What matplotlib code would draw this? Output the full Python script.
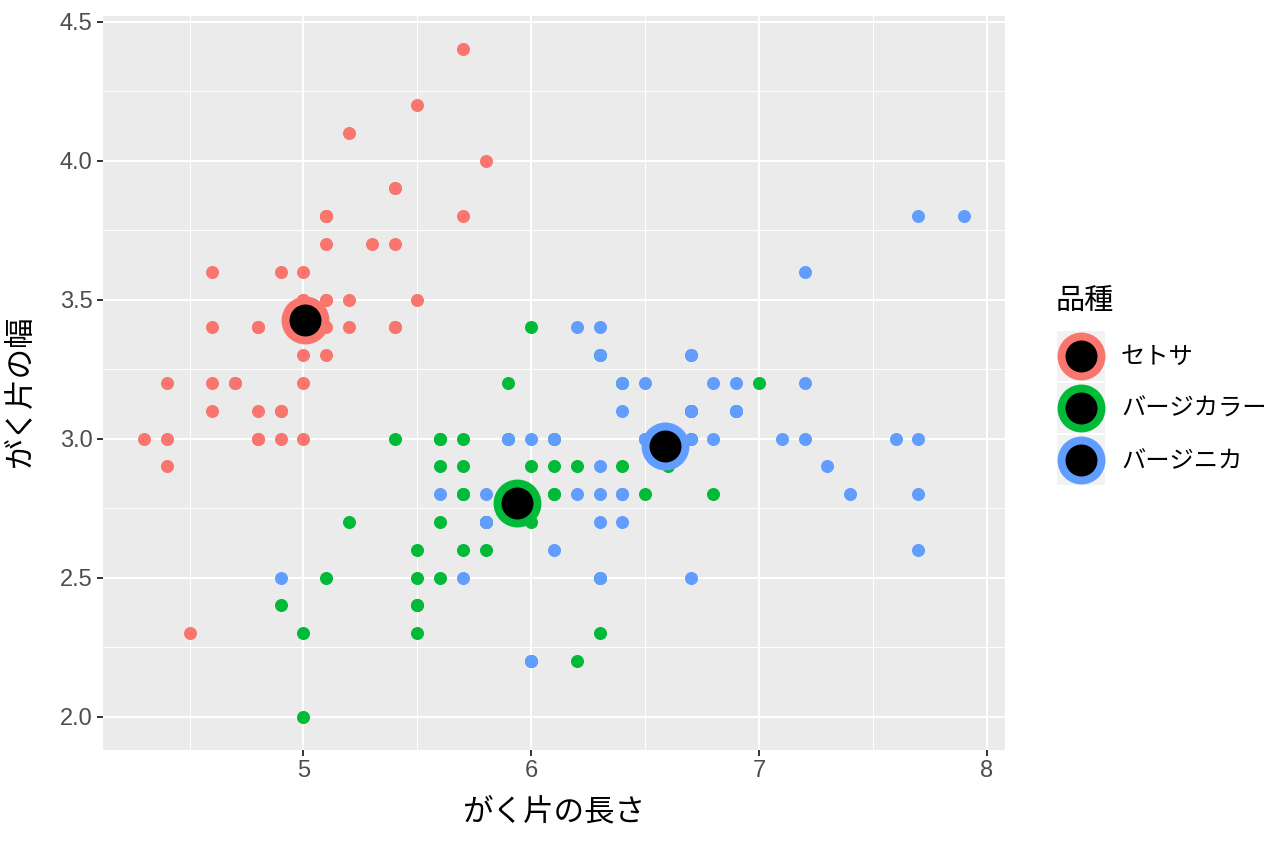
import matplotlib
matplotlib.use("Agg")
import matplotlib.pyplot as plt
from matplotlib.patches import Rectangle
import numpy as np

# iris: がく片の長さ / がく片の幅
setosa_len = [5.1, 4.9, 4.7, 4.6, 5.0, 5.4, 4.6, 5.0, 4.4, 4.9, 5.4, 4.8, 4.8, 4.3, 5.8, 5.7, 5.4, 5.1, 5.7, 5.1,
              5.4, 5.1, 4.6, 5.1, 4.8, 5.0, 5.0, 5.2, 5.2, 4.7, 4.8, 5.4, 5.2, 5.5, 4.9, 5.0, 5.5, 4.9, 4.4, 5.1,
              5.0, 4.5, 4.4, 5.0, 5.1, 4.8, 5.1, 4.6, 5.3, 5.0]
setosa_wid = [3.5, 3.0, 3.2, 3.1, 3.6, 3.9, 3.4, 3.4, 2.9, 3.1, 3.7, 3.4, 3.0, 3.0, 4.0, 4.4, 3.9, 3.5, 3.8, 3.8,
              3.4, 3.7, 3.6, 3.3, 3.4, 3.0, 3.4, 3.5, 3.4, 3.2, 3.1, 3.4, 4.1, 4.2, 3.1, 3.2, 3.5, 3.6, 3.0, 3.4,
              3.5, 2.3, 3.2, 3.5, 3.8, 3.0, 3.8, 3.2, 3.7, 3.3]
versi_len = [7.0, 6.4, 6.9, 5.5, 6.5, 5.7, 6.3, 4.9, 6.6, 5.2, 5.0, 5.9, 6.0, 6.1, 5.6, 6.7, 5.6, 5.8, 6.2, 5.6,
             5.9, 6.1, 6.3, 6.1, 6.4, 6.6, 6.8, 6.7, 6.0, 5.7, 5.5, 5.5, 5.8, 6.0, 5.4, 6.0, 6.7, 6.3, 5.6, 5.5,
             5.5, 6.1, 5.8, 5.0, 5.6, 5.7, 5.7, 6.2, 5.1, 5.7]
versi_wid = [3.2, 3.2, 3.1, 2.3, 2.8, 2.8, 3.3, 2.4, 2.9, 2.7, 2.0, 3.0, 2.2, 2.9, 2.9, 3.1, 3.0, 2.7, 2.2, 2.5,
             3.2, 2.8, 2.5, 2.8, 2.9, 3.0, 2.8, 3.0, 2.9, 2.6, 2.4, 2.4, 2.7, 2.7, 3.0, 3.4, 3.1, 2.3, 3.0, 2.5,
             2.6, 3.0, 2.6, 2.3, 2.7, 3.0, 2.9, 2.9, 2.5, 2.8]
virgi_len = [6.3, 5.8, 7.1, 6.3, 6.5, 7.6, 4.9, 7.3, 6.7, 7.2, 6.5, 6.4, 6.8, 5.7, 5.8, 6.4, 6.5, 7.7, 7.7, 6.0,
             6.9, 5.6, 7.7, 6.3, 6.7, 7.2, 6.2, 6.1, 6.4, 7.2, 7.4, 7.9, 6.4, 6.3, 6.1, 7.7, 6.3, 6.4, 6.0, 6.9,
             6.7, 6.9, 5.8, 6.8, 6.7, 6.7, 6.3, 6.5, 6.2, 5.9]
virgi_wid = [3.3, 2.7, 3.0, 2.9, 3.0, 3.0, 2.5, 2.9, 2.5, 3.6, 3.2, 2.7, 3.0, 2.5, 2.8, 3.2, 3.0, 3.8, 2.6, 2.2,
             3.2, 2.8, 2.8, 2.7, 3.3, 3.2, 2.8, 3.0, 2.8, 3.0, 2.8, 3.8, 2.8, 2.8, 2.6, 3.0, 3.4, 3.1, 3.0, 3.1,
             3.1, 3.1, 2.7, 3.2, 3.3, 3.0, 2.5, 3.0, 3.4, 3.0]

species = ["セトサ", "バージカラー", "バージニカ"]
colors = ["#F8766D", "#00BA38", "#619CFF"]
x_ticks = [5, 6, 7, 8]
y_ticks = [2.0, 2.5, 3.0, 3.5, 4.0, 4.5]

groups = [(setosa_len, setosa_wid), (versi_len, versi_wid), (virgi_len, virgi_wid)]

JP = ["Noto Sans CJK JP", "DejaVu Sans"]
NUM = ["Liberation Sans", "DejaVu Sans"]

W, H = 1264, 848
fig = plt.figure(figsize=(W / 100, H / 100), dpi=100)
fig.patch.set_facecolor("white")

# panel: x 103..1005 px, y 16..750 px
ax = fig.add_axes([103 / W, 1 - 750 / H, (1005 - 103) / W, (750 - 16) / H])
ax.set_facecolor("#EBEBEB")
for s in ax.spines.values():
    s.set_visible(False)

all_x = np.concatenate([np.array(g[0]) for g in groups])
all_y = np.concatenate([np.array(g[1]) for g in groups])
xr = all_x.max() - all_x.min()
yr = all_y.max() - all_y.min()
ax.set_xlim(all_x.min() - 0.05 * xr, all_x.max() + 0.05 * xr)
ax.set_ylim(all_y.min() - 0.05 * yr, all_y.max() + 0.05 * yr)

ax.set_xticks(x_ticks)
ax.set_xticklabels([str(v) for v in x_ticks])
ax.set_yticks(y_ticks)
ax.set_yticklabels([f"{v:.1f}" for v in y_ticks])
ax.set_xticks([4.5, 5.5, 6.5, 7.5], minor=True)
ax.set_yticks([2.25, 2.75, 3.25, 3.75, 4.25], minor=True)
ax.grid(which="major", color="white", linewidth=1.5)
ax.grid(which="minor", color="white", linewidth=0.75)
ax.set_axisbelow(True)
ax.tick_params(which="major", length=4.5, width=1.4, color="#333333",
               labelsize=17, labelcolor="#4D4D4D", pad=3)
ax.tick_params(which="minor", length=0)
for lab in ax.get_xticklabels() + ax.get_yticklabels():
    lab.set_family(NUM)

for (gx, gy), c in zip(groups, colors):
    ax.scatter(gx, gy, s=88, color=c, linewidths=0, zorder=3)

for (gx, gy), c in zip(groups, colors):
    mx, my = np.mean(gx), np.mean(gy)
    ax.scatter([mx], [my], s=1190, color=c, linewidths=0, zorder=4)
    ax.scatter([mx], [my], s=530, color="black", linewidths=0, zorder=5)

fig.text(554 / W, 1 - 812 / H, "がく片の長さ", family=JP, fontsize=22,
         ha="center", va="center", color="black")
fig.text(20 / W, 1 - 392 / H, "がく片の幅", family=JP, fontsize=22,
         ha="center", va="center", rotation=90, color="black")

# legend drawn in pixel coordinates
lax = fig.add_axes([0, 0, 1, 1], facecolor="none")
lax.set_xlim(0, W)
lax.set_ylim(H, 0)
lax.axis("off")
lax.text(1056, 302, "品種", family=JP, fontsize=21, ha="left", va="center")
key_y = [356, 408, 460]
for ky, c, name in zip(key_y, colors, species):
    lax.add_patch(Rectangle((1057, ky - 25), 48, 50, facecolor="#F2F2F2", edgecolor="none"))
    lax.scatter([1081], [ky], s=1190, color=c, linewidths=0)
    lax.scatter([1081], [ky], s=530, color="black", linewidths=0)
    lax.text(1121, ky + 1, name, family=JP, fontsize=17.5, ha="left", va="center")

fig.savefig("out.png", dpi=100)
